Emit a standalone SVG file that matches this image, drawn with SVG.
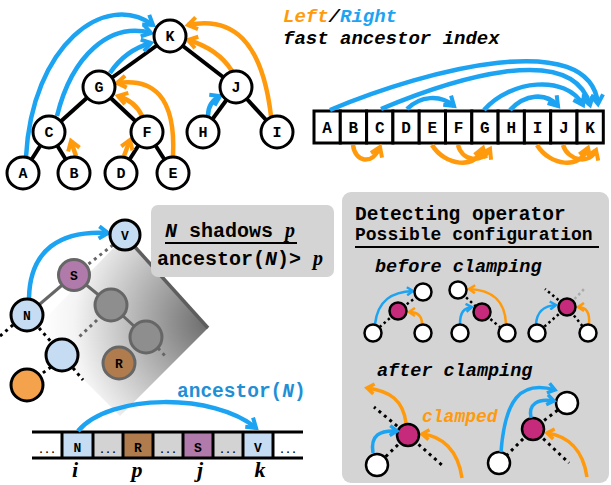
<svg xmlns="http://www.w3.org/2000/svg" width="611" height="485" viewBox="0 0 611 485">
<style>
.mono{font-family:"Liberation Mono","DejaVu Sans Mono",monospace;font-weight:bold}
.serif{font-family:"Liberation Serif","DejaVu Serif",serif;font-weight:bold;font-style:italic}
.it{font-style:italic}
.tn{fill:#fff;stroke:#000;stroke-width:3}
.tl{font-size:15px;text-anchor:middle}
.edge{stroke:#000;stroke-width:4;fill:none}
.ab{stroke:#1ca3f2;stroke-width:4.5;fill:none;marker-end:url(#mb)}
.ao{stroke:#ff9a0d;stroke-width:4.5;fill:none;marker-end:url(#mo)}
.abm{stroke:#1ca3f2;stroke-width:3.5;fill:none;marker-end:url(#mbm)}
.aom{stroke:#ff9a0d;stroke-width:3.5;fill:none;marker-end:url(#mom)}
.abs{stroke:#1ca3f2;stroke-width:2.5;fill:none;marker-end:url(#mbs)}
.aos{stroke:#ff9a0d;stroke-width:2.5;fill:none;marker-end:url(#mos)}
.dotk{stroke:#000;stroke-width:3;stroke-dasharray:3 4;fill:none}
.dotg{stroke:#666;stroke-width:3;stroke-dasharray:3 4;fill:none}
.dotks{stroke:#000;stroke-width:2.5;stroke-dasharray:2.5 3;fill:none}
.gline{stroke:#666;stroke-width:3;fill:none}
.cell{fill:#fff;stroke:#000;stroke-width:3}
.cl{font-size:16px;text-anchor:middle}
.wn{fill:#fff;stroke:#000;stroke-width:2.5}
.mg{fill:#c62a7a;stroke:#000;stroke-width:2.5}
</style>
<defs>
<marker id="mb" viewBox="0 0 16 16" refX="12" refY="8" markerWidth="16" markerHeight="16" markerUnits="userSpaceOnUse" orient="auto"><path d="M3,2 L12,8 L3,14" fill="none" stroke="#1ca3f2" stroke-width="4"/></marker>
<marker id="mo" viewBox="0 0 16 16" refX="12" refY="8" markerWidth="16" markerHeight="16" markerUnits="userSpaceOnUse" orient="auto"><path d="M3,2 L12,8 L3,14" fill="none" stroke="#ff9a0d" stroke-width="4"/></marker>
<marker id="mbm" viewBox="0 0 14 14" refX="10" refY="7" markerWidth="14" markerHeight="14" markerUnits="userSpaceOnUse" orient="auto"><path d="M3,2 L10,7 L3,12" fill="none" stroke="#1ca3f2" stroke-width="3.5"/></marker>
<marker id="mom" viewBox="0 0 14 14" refX="10" refY="7" markerWidth="14" markerHeight="14" markerUnits="userSpaceOnUse" orient="auto"><path d="M3,2 L10,7 L3,12" fill="none" stroke="#ff9a0d" stroke-width="3.5"/></marker>
<marker id="mbs" viewBox="0 0 10 10" refX="8" refY="5" markerWidth="10" markerHeight="10" markerUnits="userSpaceOnUse" orient="auto"><path d="M2,1 L8,5 L2,9" fill="none" stroke="#1ca3f2" stroke-width="2.5"/></marker>
<marker id="mos" viewBox="0 0 10 10" refX="8" refY="5" markerWidth="10" markerHeight="10" markerUnits="userSpaceOnUse" orient="auto"><path d="M2,1 L8,5 L2,9" fill="none" stroke="#ff9a0d" stroke-width="2.5"/></marker>
<radialGradient id="shade" gradientUnits="userSpaceOnUse" cx="210" cy="322" r="170">
<stop offset="0" stop-color="#6a6a6a"/>
<stop offset="0.45" stop-color="#b8b8b8"/>
<stop offset="0.8" stop-color="#f4f4f4"/>
<stop offset="1" stop-color="#ffffff"/>
</radialGradient>
</defs>

<!-- ===== Top tree ===== -->
<g id="tree-edges">
<line class="edge" x1="170" y1="36" x2="99" y2="87"/>
<line class="edge" x1="170" y1="36" x2="236" y2="87"/>
<line class="edge" x1="99" y1="87" x2="49" y2="132"/>
<line class="edge" x1="99" y1="87" x2="147" y2="132"/>
<line class="edge" x1="49" y1="132" x2="23" y2="173"/>
<line class="edge" x1="49" y1="132" x2="74" y2="173"/>
<line class="edge" x1="147" y1="132" x2="121" y2="173"/>
<line class="edge" x1="147" y1="132" x2="173" y2="173"/>
<line class="edge" x1="236" y1="87" x2="203" y2="132"/>
<line class="edge" x1="236" y1="87" x2="277" y2="132"/>
</g>
<g id="tree-arrows">
<path class="ab" d="M26 157 C32 45 105 -10 153 25"/>
<path class="ab" d="M57 116 C72 55 110 22 151 33"/>
<path class="ab" d="M110 73 C120 58 133 48 151 43"/>
<path class="ab" d="M208 116 C208 106 212 100 220 96"/>
<path class="ao" d="M76 156 L71 141"/>
<path class="ao" d="M124 156 L130 140"/>
<path class="ao" d="M173 156 C176 95 152 78 117 83"/>
<path class="ao" d="M142 116 C137 105 128 99 118 96"/>
<path class="ao" d="M232 71 C222 55 205 45 188 40"/>
<path class="ao" d="M271 116 C262 40 232 16 188 25"/>
</g>
<g id="node-K"><circle class="tn" cx="170" cy="36" r="16"/><text class="mono tl" x="170" y="41">K</text></g>
<g id="node-G"><circle class="tn" cx="99" cy="87" r="16"/><text class="mono tl" x="99" y="92">G</text></g>
<g id="node-J"><circle class="tn" cx="236" cy="87" r="16"/><text class="mono tl" x="236" y="92">J</text></g>
<g id="node-C"><circle class="tn" cx="49" cy="132" r="16"/><text class="mono tl" x="49" y="137">C</text></g>
<g id="node-F"><circle class="tn" cx="147" cy="132" r="16"/><text class="mono tl" x="147" y="137">F</text></g>
<g id="node-H"><circle class="tn" cx="203" cy="132" r="16"/><text class="mono tl" x="203" y="137">H</text></g>
<g id="node-I"><circle class="tn" cx="277" cy="132" r="16"/><text class="mono tl" x="277" y="137">I</text></g>
<g id="node-A"><circle class="tn" cx="23" cy="173" r="16"/><text class="mono tl" x="23" y="178">A</text></g>
<g id="node-B"><circle class="tn" cx="74" cy="173" r="16"/><text class="mono tl" x="74" y="178">B</text></g>
<g id="node-D"><circle class="tn" cx="121" cy="173" r="16"/><text class="mono tl" x="121" y="178">D</text></g>
<g id="node-E"><circle class="tn" cx="173" cy="173" r="16"/><text class="mono tl" x="173" y="178">E</text></g>

<!-- legend -->
<g id="legend">
<text class="mono it" x="283" y="22" font-size="19"><tspan fill="#ff9a0d">Left</tspan><tspan fill="#000">/</tspan><tspan fill="#1ca3f2">Right</tspan></text>
<text class="mono it" x="283" y="44" font-size="19" fill="#000">fast ancestor index</text>
</g>

<!-- ===== Top array ===== -->
<g id="top-array">
<rect class="cell" x="314" y="111" width="26.3" height="32"/>
<rect class="cell" x="340.3" y="111" width="26.3" height="32"/>
<rect class="cell" x="366.6" y="111" width="26.3" height="32"/>
<rect class="cell" x="392.9" y="111" width="26.3" height="32"/>
<rect class="cell" x="419.2" y="111" width="26.3" height="32"/>
<rect class="cell" x="445.5" y="111" width="26.3" height="32"/>
<rect class="cell" x="471.8" y="111" width="26.3" height="32"/>
<rect class="cell" x="498.1" y="111" width="26.3" height="32"/>
<rect class="cell" x="524.4" y="111" width="26.3" height="32"/>
<rect class="cell" x="550.7" y="111" width="26.3" height="32"/>
<rect class="cell" x="577" y="111" width="26.3" height="32"/>
<text class="mono cl" x="327" y="133">A</text>
<text class="mono cl" x="353.4" y="133">B</text>
<text class="mono cl" x="379.7" y="133">C</text>
<text class="mono cl" x="406" y="133">D</text>
<text class="mono cl" x="432.3" y="133">E</text>
<text class="mono cl" x="458.6" y="133">F</text>
<text class="mono cl" x="484.9" y="133">G</text>
<text class="mono cl" x="511.2" y="133">H</text>
<text class="mono cl" x="537.5" y="133">I</text>
<text class="mono cl" x="563.8" y="133">J</text>
<text class="mono cl" x="590.1" y="133">K</text>
</g>
<g id="array-arrows">
<path class="ab" d="M330 110 C430 68 590 28 598 104"/>
<path class="ab" d="M381 109 C450 80 572 40 590 105"/>
<path class="ab" d="M407 109 C420 96 440 94 454 106"/>
<path class="ab" d="M484 110 C510 80 566 74 583 105"/>
<path class="ab" d="M510 110 C525 94 546 92 558 106"/>
<path class="ao" d="M353 145 C355 162 372 166 380 147"/>
<path class="ao" d="M432 145 C445 166 476 170 483 148"/>
<path class="ao" d="M458 145 C462 161 482 164 490 149"/>
<path class="ao" d="M537 145 C550 166 580 170 588 148"/>
<path class="ao" d="M563 145 C568 161 590 165 596 150"/>
</g>

<!-- ===== Bottom-left: shadow ===== -->
<g id="shadow">
<polygon points="125,236 208,328 120,416 34,330" fill="url(#shade)"/>
<line x1="135" y1="247" x2="208" y2="328" stroke="#5e5e5e" stroke-width="3.5"/>
</g>
<g id="subtree-edges">
<line class="dotg" x1="113" y1="245" x2="86" y2="266"/>
<line class="gline" x1="74" y1="275" x2="27" y2="315"/>
<line class="gline" x1="74" y1="275" x2="111" y2="305"/>
<line class="gline" x1="111" y1="305" x2="146" y2="337"/>
<line class="dotg" x1="97" y1="320" x2="78" y2="338"/>
<line class="dotg" x1="158" y1="348" x2="167" y2="358"/>
<line class="dotk" x1="13" y1="325" x2="0" y2="336"/>
<line class="dotk" x1="39" y1="328" x2="52" y2="343"/>
<line class="dotk" x1="73" y1="368" x2="83" y2="380"/>
<line class="dotk" x1="51" y1="367" x2="40" y2="375"/>
</g>
<path class="ab" d="M29 298 C30 250 60 230 108 233"/>
<g id="node-V"><circle cx="125" cy="235" r="15" fill="#c5dcf2" stroke="#000" stroke-width="3"/><text class="mono" x="125" y="240" font-size="13" text-anchor="middle">V</text></g>
<g id="node-S"><circle cx="74" cy="275" r="15.5" fill="#b07aab" stroke="#666" stroke-width="3"/><text class="mono" x="74" y="280" font-size="13" text-anchor="middle">S</text></g>
<g id="node-N"><circle cx="27" cy="315" r="16" fill="#c5dcf2" stroke="#000" stroke-width="3"/><text class="mono" x="27" y="320" font-size="13" text-anchor="middle">N</text></g>
<g id="node-g1"><circle cx="111" cy="305" r="16" fill="#8e8e8e" stroke="#666" stroke-width="3"/></g>
<g id="node-g2"><circle cx="146" cy="337" r="16" fill="#8e8e8e" stroke="#666" stroke-width="3"/></g>
<g id="node-R"><circle cx="119" cy="363" r="16" fill="#b07c4e" stroke="#666" stroke-width="3"/><text class="mono" x="119" y="368" font-size="13" text-anchor="middle">R</text></g>
<g id="node-lb"><circle cx="62" cy="355" r="16" fill="#c5dcf2" stroke="#000" stroke-width="3"/></g>
<g id="node-or"><circle cx="27" cy="385" r="16" fill="#f5a24c" stroke="#000" stroke-width="3"/></g>

<!-- gray note -->
<g id="note">
<rect x="151" y="205" width="183" height="72" rx="7" fill="#d4d4d4"/>
<text class="mono" x="165" y="237" font-size="20"><tspan class="it">N</tspan> shadows <tspan class="serif">p</tspan></text>
<line x1="165" y1="243" x2="297" y2="243" stroke="#000" stroke-width="2"/>
<text class="mono" x="157" y="265" font-size="20">ancestor(<tspan class="it">N</tspan>)&gt; <tspan class="serif">p</tspan></text>
</g>

<!-- bottom array -->
<g id="bottom-array">
<rect x="62" y="432" width="31" height="26" fill="#c5dcf2"/>
<rect x="93" y="432" width="30" height="26" fill="#d3d3d3"/>
<rect x="123" y="432" width="30" height="26" fill="#b07c4e"/>
<rect x="153" y="432" width="30" height="26" fill="#d3d3d3"/>
<rect x="183" y="432" width="30" height="26" fill="#b07aab"/>
<rect x="213" y="432" width="30" height="26" fill="#d3d3d3"/>
<rect x="243" y="432" width="30" height="26" fill="#c5dcf2"/>
<line x1="32" y1="432" x2="303" y2="432" stroke="#000" stroke-width="3"/>
<line x1="32" y1="458" x2="303" y2="458" stroke="#000" stroke-width="3"/>
<g stroke="#000" stroke-width="3">
<line x1="62" y1="432" x2="62" y2="458"/>
<line x1="93" y1="432" x2="93" y2="458"/>
<line x1="123" y1="432" x2="123" y2="458"/>
<line x1="153" y1="432" x2="153" y2="458"/>
<line x1="183" y1="432" x2="183" y2="458"/>
<line x1="213" y1="432" x2="213" y2="458"/>
<line x1="243" y1="432" x2="243" y2="458"/>
<line x1="273" y1="432" x2="273" y2="458"/>
</g>
<g class="mono" font-size="10" text-anchor="middle">
<text x="47" y="453">...</text>
<text x="108" y="453">...</text>
<text x="168" y="453">...</text>
<text x="228" y="453">...</text>
<text x="288" y="453">...</text>
</g>
<g class="mono" font-size="13" text-anchor="middle">
<text x="77.5" y="452">N</text>
<text x="138" y="452">R</text>
<text x="198" y="452">S</text>
<text x="258" y="452">V</text>
</g>
<g class="serif" font-size="22" text-anchor="middle">
<text x="75" y="477">i</text>
<text x="137" y="477">p</text>
<text x="200" y="477">j</text>
<text x="260" y="477">k</text>
</g>
</g>
<text class="mono" x="177" y="397" font-size="19.5" fill="#1f8fd6">ancestor(<tspan class="it">N</tspan>)</text>
<path class="ab" d="M78 431 C110 393 215 393 256 428"/>

<!-- ===== Bottom-right panel ===== -->
<g id="panel">
<rect x="342" y="192" width="267" height="291" rx="9" fill="#d4d4d4"/>
<text class="mono" x="355" y="220" font-size="19.5">Detecting operator</text>
<text class="mono" x="355" y="240" font-size="18">Possible configuration</text>
<line x1="355" y1="247" x2="599" y2="247" stroke="#000" stroke-width="2"/>
<text class="mono it" x="375" y="272" font-size="18.5">before clamping</text>
<text class="mono it" x="377" y="376" font-size="18.5">after clamping</text>
<text class="mono it" x="422" y="422" font-size="18" fill="#ff9a0d">clamped</text>
</g>

<g id="config1">
<line class="dotks" x1="398" y1="311" x2="423" y2="292"/>
<line class="dotks" x1="398" y1="311" x2="373" y2="333"/>
<path class="abs" d="M375 324 C378 300 392 292 413 291"/>
<path class="aos" d="M422 324 C422 316 418 312 409 312"/>
<circle class="wn" cx="423" cy="292" r="8.5"/>
<circle class="mg" cx="398" cy="311" r="8.5"/>
<circle class="wn" cx="373" cy="333" r="8.5"/>
<circle class="wn" cx="423" cy="333" r="8.5"/>
</g>
<g id="config2">
<line class="dotks" x1="458" y1="290" x2="482" y2="312"/>
<line class="dotks" x1="482" y1="312" x2="507" y2="333"/>
<path class="abs" d="M460 324 C460 312 464 308 472 307"/>
<path class="aos" d="M506 324 C505 300 492 290 469 289"/>
<circle class="wn" cx="458" cy="290" r="8.5"/>
<circle class="mg" cx="482" cy="312" r="8.5"/>
<circle class="wn" cx="460" cy="333" r="8.5"/>
<circle class="wn" cx="507" cy="333" r="8.5"/>
</g>
<g id="config3">
<line class="dotks" x1="567" y1="307" x2="545" y2="289"/>
<line x1="567" y1="307" x2="585" y2="288" stroke="#aaa" stroke-width="2.5" stroke-dasharray="2.5 3"/>
<line class="dotks" x1="567" y1="307" x2="537" y2="333"/>
<line class="dotks" x1="567" y1="307" x2="588" y2="333"/>
<path class="abs" d="M536 324 C537 312 543 306 556 305"/>
<path class="aos" d="M589 324 C590 312 586 307 578 307"/>
<circle class="mg" cx="567" cy="307" r="8.5"/>
<circle class="wn" cx="537" cy="333" r="8.5"/>
<circle class="wn" cx="588" cy="333" r="8.5"/>
</g>
<g id="configA">
<line class="dotk" x1="408" y1="435" x2="374" y2="407"/>
<line class="dotk" x1="408" y1="435" x2="443" y2="466"/>
<line class="dotk" x1="408" y1="435" x2="377" y2="465"/>
<path class="aom" d="M406 423 C403 400 390 391 367 388"/>
<path class="aom" d="M462 478 C458 450 442 436 422 434"/>
<circle class="mg" cx="408" cy="435" r="11"/>
<circle class="wn" cx="377" cy="465" r="11"/>
<path class="abm" d="M373 453 C370 435 380 430 397 431"/>
</g>
<g id="configB">
<line class="dotk" x1="533" y1="429" x2="567" y2="403"/>
<line class="dotk" x1="533" y1="429" x2="499" y2="463"/>
<line class="dotk" x1="533" y1="429" x2="569" y2="463"/>
<path class="aom" d="M587 477 C583 450 568 436 547 433"/>
<circle class="mg" cx="533" cy="429" r="11"/>
<circle class="wn" cx="567" cy="403" r="11"/>
<circle class="wn" cx="499" cy="463" r="11"/>
<path class="abm" d="M501 452 C505 400 520 380 555 390"/>
<path class="abm" d="M531 418 C528 404 538 398 554 401"/>
</g>
</svg>
